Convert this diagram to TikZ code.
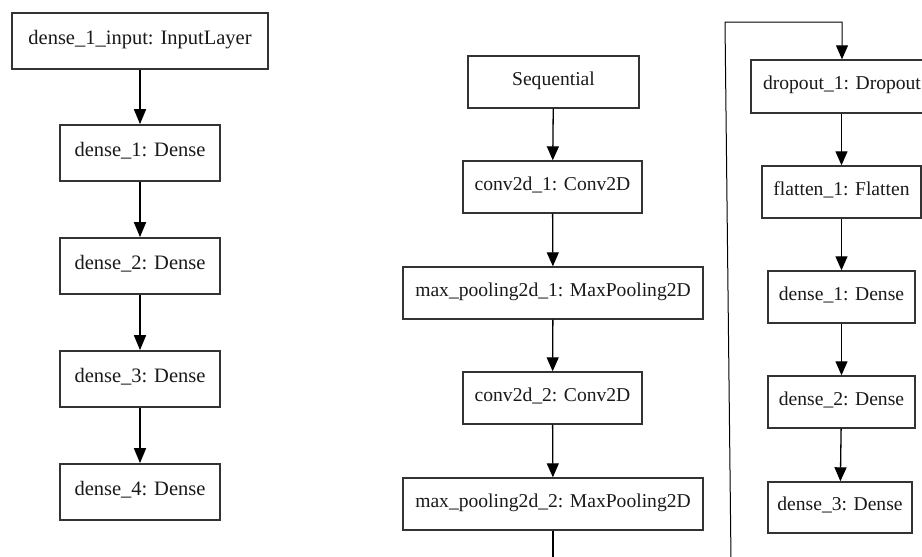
\documentclass[tikz,border=0pt]{standalone}
\usepackage{fontspec}
\setmainfont{Liberation Serif}
\usetikzlibrary{arrows.meta}
\definecolor{boxline}{HTML}{333333}
\definecolor{txt}{HTML}{1A1A1A}
\tikzset{
  layer/.style={draw=boxline, fill=white, inner sep=0pt, text=txt,
    text height=0.66em, text depth=0pt, align=center},
  bigtxt/.style={font=\fontsize{20.5}{24}\selectfont, line width=1.7pt},
  smalltxt/.style={font=\fontsize{19.6}{23}\selectfont, line width=1.4pt},
  flowL/.style={draw=black, line width=1.7pt, -{Triangle[length=15pt,width=12pt]}},
  flowM/.style={draw=black, line width=1.3pt, -{Triangle[length=14pt,width=12pt]}},
  plainM/.style={draw=black, line width=1.3pt},
}
\newcommand{\layerbox}[7]{% name, x1, y1, x2, y2, style, text
  \node[layer, #6, minimum width={(#4-#2)*1pt}, minimum height={(#5-#3)*1pt}]
    (#1) at ({(#2+#4)/2},{(#3+#5)/2}) {#7};}
\begin{document}
\begin{tikzpicture}[x=1pt, y=-1pt]
\useasboundingbox[fill=white] (0,0) rectangle (922,557);
% left column
\layerbox{in}{12}{13}{268}{69}{bigtxt}{dense\_1\_input: InputLayer}
\layerbox{ld1}{60}{125}{220}{181}{bigtxt}{dense\_1: Dense}
\layerbox{ld2}{60}{238}{220}{294}{bigtxt}{dense\_2: Dense}
\layerbox{ld3}{60}{351}{220}{407}{bigtxt}{dense\_3: Dense}
\layerbox{ld4}{60}{464}{220}{520}{bigtxt}{dense\_4: Dense}
\draw[flowL] (in) -- (ld1);
\draw[flowL] (ld1) -- (ld2);
\draw[flowL] (ld2) -- (ld3);
\draw[flowL] (ld3) -- (ld4);
% middle column
\layerbox{seq}{468}{56}{639}{108}{smalltxt}{Sequential}
\layerbox{c1}{463}{161}{642}{213}{smalltxt}{conv2d\_1: Conv2D}
\layerbox{mp1}{403}{267}{703}{319}{smalltxt}{max\_pooling2d\_1: MaxPooling2D}
\layerbox{c2}{463}{372}{642}{424}{smalltxt}{conv2d\_2: Conv2D}
\layerbox{mp2}{403}{478}{703}{530}{smalltxt}{max\_pooling2d\_2: MaxPooling2D}
\draw[flowM] (seq) -- (c1);
\draw[flowM] (c1) -- (mp1);
\draw[flowM] (mp1) -- (c2);
\draw[flowM] (c2) -- (mp2);
\coordinate (cut) at (553,560);
\draw[plainM] (mp2.south) -- (cut);
% right column
\layerbox{drop}{751}{60}{933}{113}{smalltxt}{dropout\_1: Dropout}
\layerbox{flat}{762}{166}{921}{218}{smalltxt}{flatten\_1: Flatten}
\layerbox{rd1}{768}{271}{915}{323}{smalltxt}{dense\_1: Dense}
\layerbox{rd2}{768}{376}{915}{428}{smalltxt}{dense\_2: Dense}
\layerbox{rd3}{768}{482}{912}{533}{smalltxt}{dense\_3: Dense}
\coordinate (feedlow) at (731,560);
\coordinate (feedtop) at (725,22);
\draw[flowM, line width=1pt] (feedlow) -- (feedtop) -- (feedtop -| drop.north) -- (drop.north);
\draw[flowM] (drop.south -| flat.north) -- (flat);
\draw[flowM] (flat.south -| rd1.north) -- (rd1);
\draw[flowM] (rd1) -- (rd2);
\draw[flowM] (rd2) -- (rd3);
\end{tikzpicture}
\end{document}
